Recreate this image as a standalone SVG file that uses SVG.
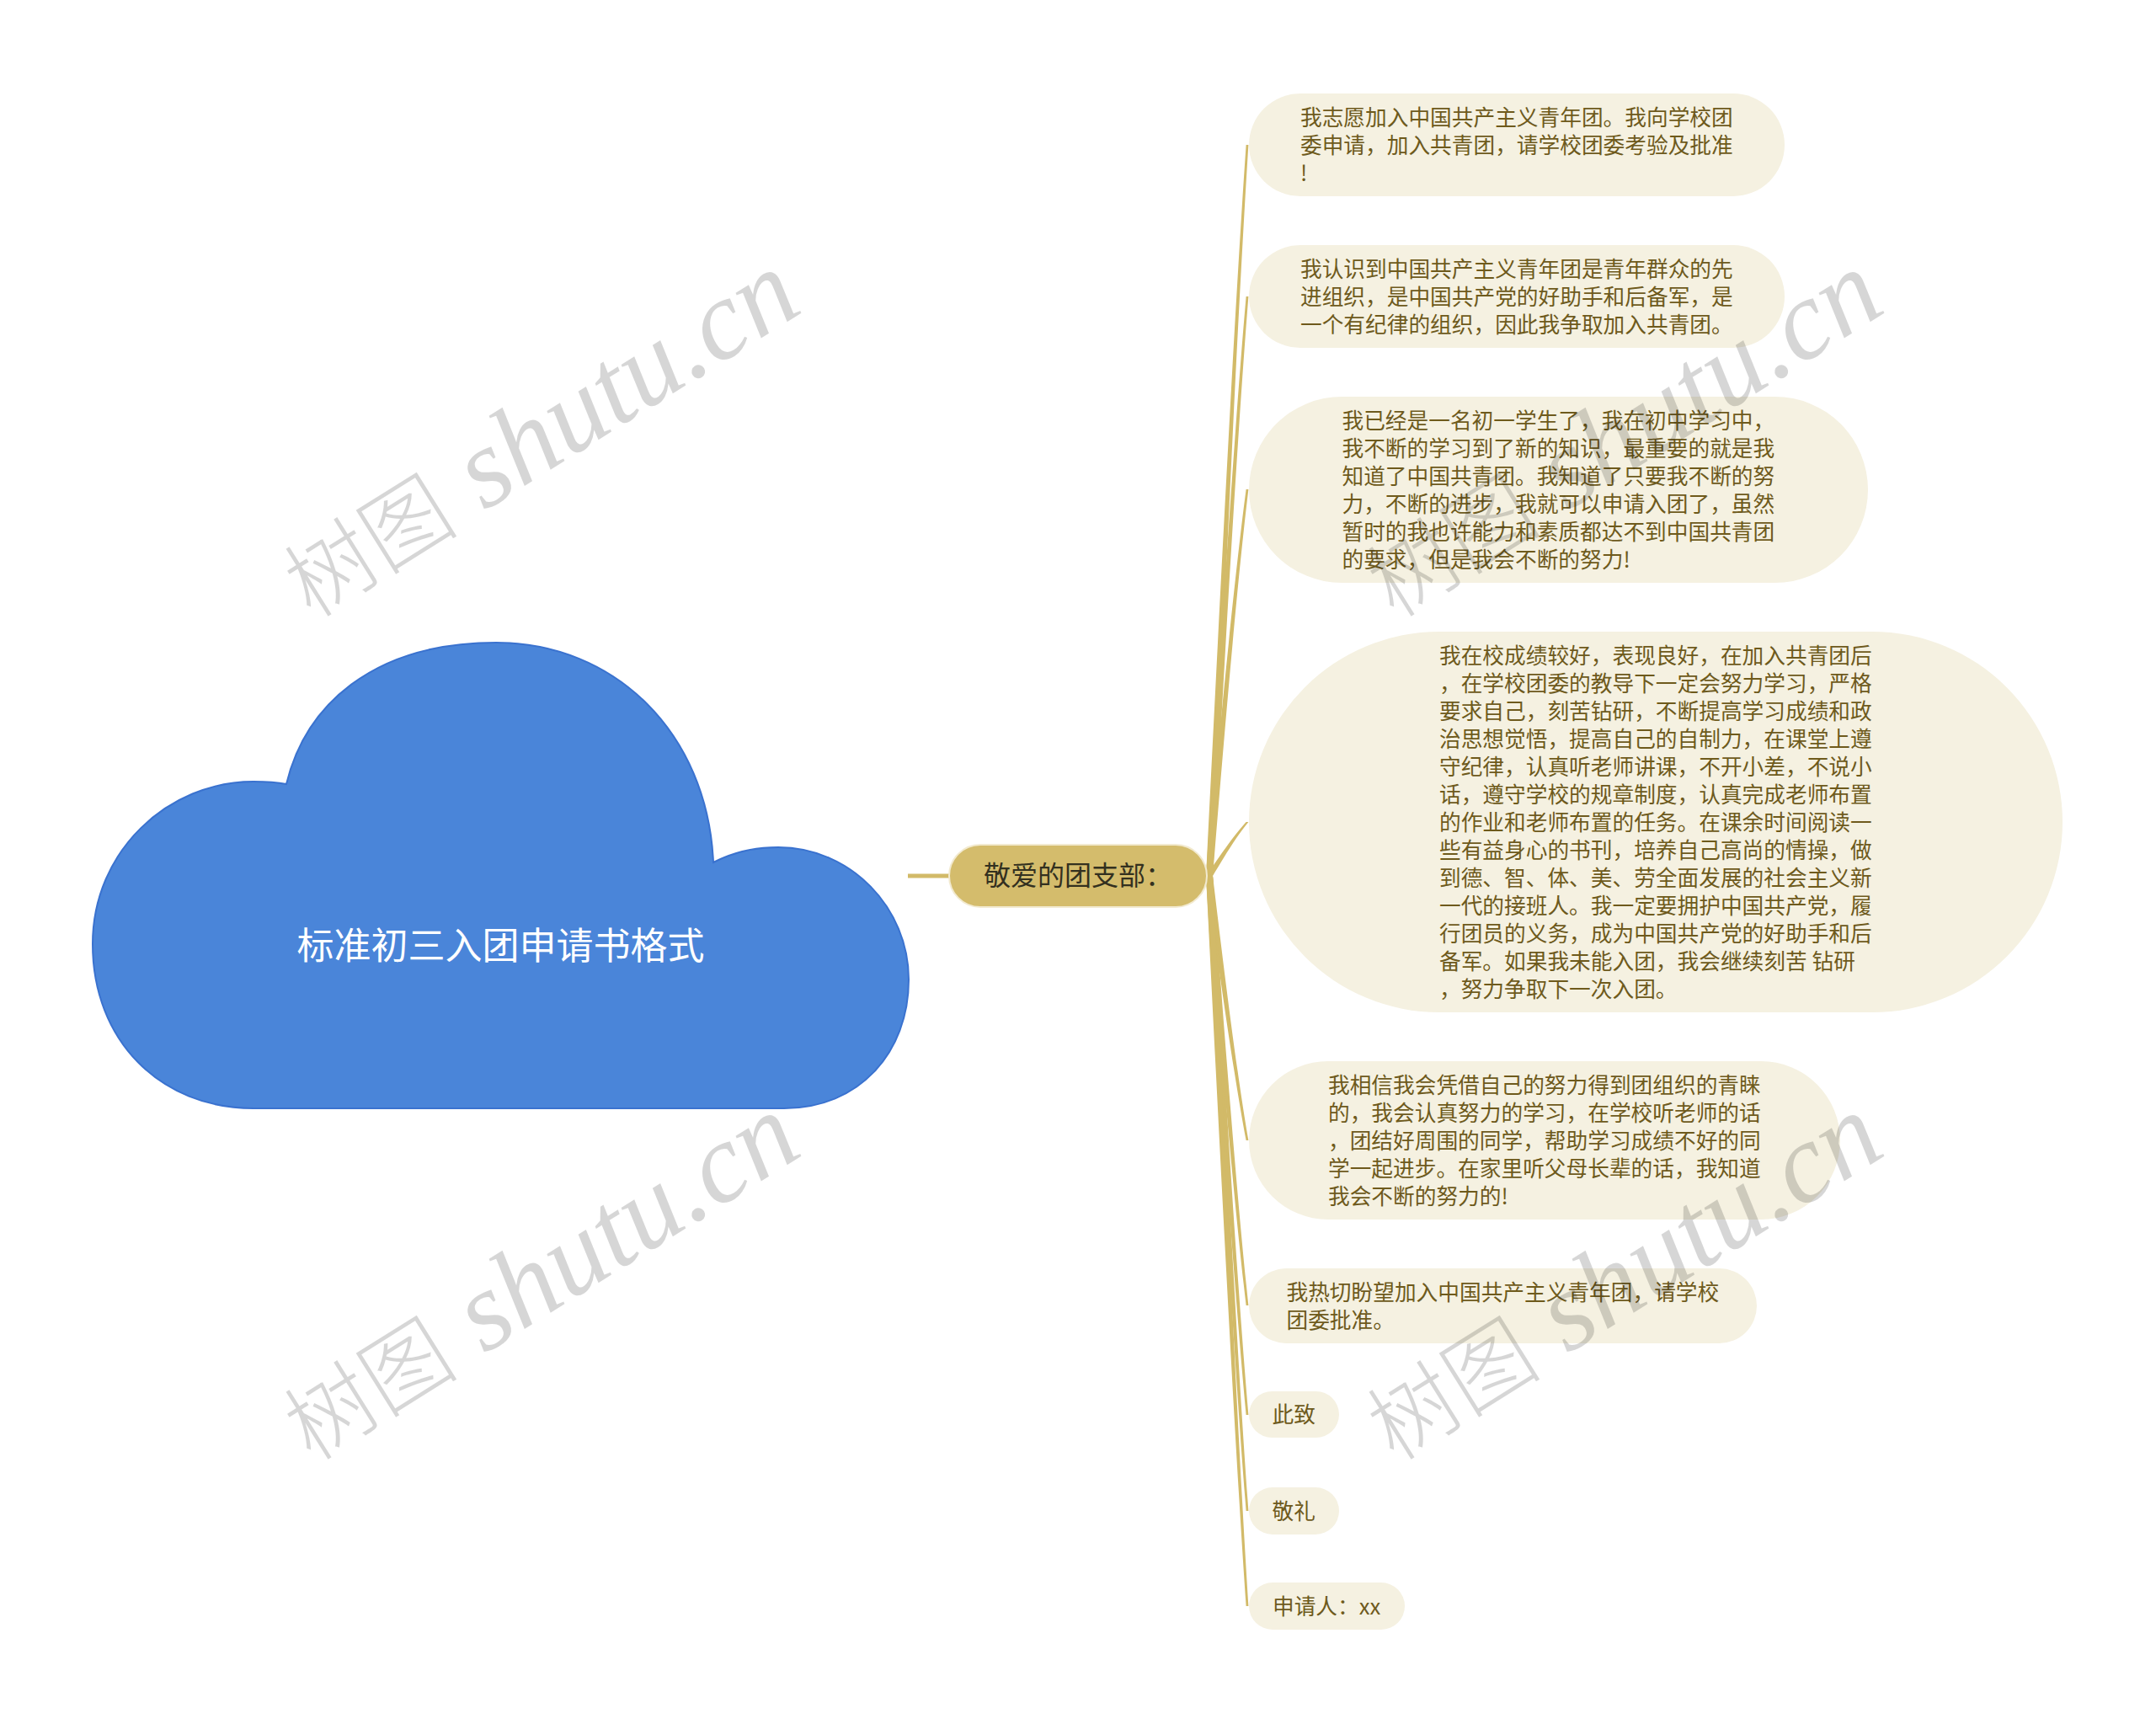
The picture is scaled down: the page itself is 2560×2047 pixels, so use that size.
<svg xmlns="http://www.w3.org/2000/svg" width="2560" height="2047" viewBox="0 0 2560 2047">
<style>
.t{font-family:"Noto Sans CJK SC","Noto Sans",sans-serif;font-size:25.7px;fill:#6E5A1C}
.nb{fill:#F5F1E1}
.cn{fill:#D2BA68}
.wm{font-family:"Liberation Serif","Noto Sans CJK SC",serif;font-style:italic;font-size:134px;fill:#000;fill-opacity:0.16}
.wc{font-family:"Noto Sans CJK SC",serif;font-style:normal;font-size:104px;font-weight:300}
</style>
<rect width="2560" height="2047" fill="#FFFFFF"/>
<g id="connectors">
<line x1="1078" y1="1040" x2="1130" y2="1040" stroke="#D2BA68" stroke-width="5"/>
<path class="cn" d="M1432,1040 C1446,762 1464,398 1479.6,172 L1482.4,172 C1468,398 1452,762 1440,1040 Z"/>
<path class="cn" d="M1432,1040 C1446,820 1464,531 1479.6,352 L1482.4,352 C1468,531 1452,820 1440,1040 Z"/>
<path class="cn" d="M1432,1040 C1446,893 1464,700 1479.6,581 L1482.4,581 C1468,700 1452,893 1440,1040 Z"/>
<path class="cn" d="M1432,1040 C1446,1020 1464,993 1479.6,976 L1482.4,976 C1468,993 1452,1020 1440,1040 Z"/>
<path class="cn" d="M1432,1040 C1446,1140 1464,1272 1479.6,1354 L1482.4,1354 C1468,1272 1452,1140 1440,1040 Z"/>
<path class="cn" d="M1432,1040 C1446,1203 1464,1417 1479.6,1550 L1482.4,1550 C1468,1417 1452,1203 1440,1040 Z"/>
<path class="cn" d="M1432,1040 C1446,1245 1464,1514 1479.6,1680 L1482.4,1680 C1468,1514 1452,1245 1440,1040 Z"/>
<path class="cn" d="M1432,1040 C1446,1281 1464,1598 1479.6,1794 L1482.4,1794 C1468,1598 1452,1281 1440,1040 Z"/>
<path class="cn" d="M1432,1040 C1446,1317 1464,1682 1479.6,1907 L1482.4,1907 C1468,1682 1452,1317 1440,1040 Z"/>
</g>
<g id="root">
<path d="M301,1316 C190,1316 110,1235 110,1121 C110,1010 200,928 301,928 C318,928 330,929 340,931 C362,840 440,763 589,763 C730,763 840,870 847,1024 C870,1012 895,1006 924,1006 C1010,1006 1079,1078 1079,1163 C1079,1250 1020,1316 931,1316 Z" fill="#4A85D9" stroke="#3A72CF" stroke-width="2"/>
<text x="594.5" y="1139" text-anchor="middle" style="font-family:'Noto Sans CJK SC',sans-serif;font-size:44px;fill:#FFFFFF">标准初三入团申请书格式</text>
</g>
<g id="main">
<rect x="1127" y="1003" width="306" height="74" rx="37" fill="#D4BC6C" stroke="#F2EAD0" stroke-width="2"/>
<text x="1280" y="1051" text-anchor="middle" style="font-family:'Noto Sans CJK SC',sans-serif;font-size:32px;fill:#33301F">敬爱的团支部：</text>
</g>
<g id="n1">
<rect class="nb" x="1483" y="111" width="636" height="122" rx="61"/>
<text class="t"><tspan x="1544" y="148.5">我志愿加入中国共产主义青年团。我向学校团</tspan><tspan x="1544" y="181.5">委申请，加入共青团，请学校团委考验及批准</tspan><tspan x="1544" y="214.5">!</tspan></text>
</g>
<g id="n2">
<rect class="nb" x="1483" y="291" width="636" height="122" rx="61"/>
<text class="t"><tspan x="1544" y="328.5">我认识到中国共产主义青年团是青年群众的先</tspan><tspan x="1544" y="361.5">进组织，是中国共产党的好助手和后备军，是</tspan><tspan x="1544" y="394.5">一个有纪律的组织，因此我争取加入共青团。</tspan></text>
</g>
<g id="n3">
<rect class="nb" x="1483" y="471" width="735" height="221" rx="110.5"/>
<text class="t"><tspan x="1593.5" y="508.5">我已经是一名初一学生了，我在初中学习中，</tspan><tspan x="1593.5" y="541.5">我不断的学习到了新的知识，最重要的就是我</tspan><tspan x="1593.5" y="574.5">知道了中国共青团。我知道了只要我不断的努</tspan><tspan x="1593.5" y="607.5">力，不断的进步，我就可以申请入团了，虽然</tspan><tspan x="1593.5" y="640.5">暂时的我也许能力和素质都达不到中国共青团</tspan><tspan x="1593.5" y="673.5">的要求，但是我会不断的努力!</tspan></text>
</g>
<g id="n4">
<rect class="nb" x="1483" y="750" width="966" height="452" rx="226"/>
<text class="t"><tspan x="1709" y="787.5">我在校成绩较好，表现良好，在加入共青团后</tspan><tspan x="1709" y="820.5">，在学校团委的教导下一定会努力学习，严格</tspan><tspan x="1709" y="853.5">要求自己，刻苦钻研，不断提高学习成绩和政</tspan><tspan x="1709" y="886.5">治思想觉悟，提高自己的自制力，在课堂上遵</tspan><tspan x="1709" y="919.5">守纪律，认真听老师讲课，不开小差，不说小</tspan><tspan x="1709" y="952.5">话，遵守学校的规章制度，认真完成老师布置</tspan><tspan x="1709" y="985.5">的作业和老师布置的任务。在课余时间阅读一</tspan><tspan x="1709" y="1018.5">些有益身心的书刊，培养自己高尚的情操，做</tspan><tspan x="1709" y="1051.5">到德、智、体、美、劳全面发展的社会主义新</tspan><tspan x="1709" y="1084.5">一代的接班人。我一定要拥护中国共产党，履</tspan><tspan x="1709" y="1117.5">行团员的义务，成为中国共产党的好助手和后</tspan><tspan x="1709" y="1150.5">备军。如果我未能入团，我会继续刻苦 钻研</tspan><tspan x="1709" y="1183.5">，努力争取下一次入团。</tspan></text>
</g>
<g id="n5">
<rect class="nb" x="1483" y="1260" width="702" height="188" rx="94"/>
<text class="t"><tspan x="1577" y="1297.5">我相信我会凭借自己的努力得到团组织的青睐</tspan><tspan x="1577" y="1330.5">的，我会认真努力的学习，在学校听老师的话</tspan><tspan x="1577" y="1363.5">，团结好周围的同学，帮助学习成绩不好的同</tspan><tspan x="1577" y="1396.5">学一起进步。在家里听父母长辈的话，我知道</tspan><tspan x="1577" y="1429.5">我会不断的努力的!</tspan></text>
</g>
<g id="n6">
<rect class="nb" x="1483" y="1506" width="603" height="89" rx="44.5"/>
<text class="t"><tspan x="1527.5" y="1543.5">我热切盼望加入中国共产主义青年团，请学校</tspan><tspan x="1527.5" y="1576.5">团委批准。</tspan></text>
</g>
<g id="n7">
<rect class="nb" x="1483" y="1652" width="107" height="55" rx="27.5"/>
<text class="t" x="1510.5" y="1689">此致</text>
</g>
<g id="n8">
<rect class="nb" x="1483" y="1766" width="107" height="56" rx="28"/>
<text class="t" x="1510.5" y="1803.5">敬礼</text>
</g>
<g id="n9">
<rect class="nb" x="1483" y="1879" width="185" height="56" rx="28"/>
<text class="t" x="1511" y="1916.5">申请人：xx</text>
</g>
<g id="watermarks">
<text class="wm" text-anchor="middle" transform="translate(642 518) rotate(-32)" x="0" y="40"><tspan class="wc">树图</tspan> shutu.cn</text>
<text class="wm" text-anchor="middle" transform="translate(1928 518) rotate(-32)" x="0" y="40"><tspan class="wc">树图</tspan> shutu.cn</text>
<text class="wm" text-anchor="middle" transform="translate(642 1519) rotate(-32)" x="0" y="40"><tspan class="wc">树图</tspan> shutu.cn</text>
<text class="wm" text-anchor="middle" transform="translate(1928 1519) rotate(-32)" x="0" y="40"><tspan class="wc">树图</tspan> shutu.cn</text>
</g>
</svg>
